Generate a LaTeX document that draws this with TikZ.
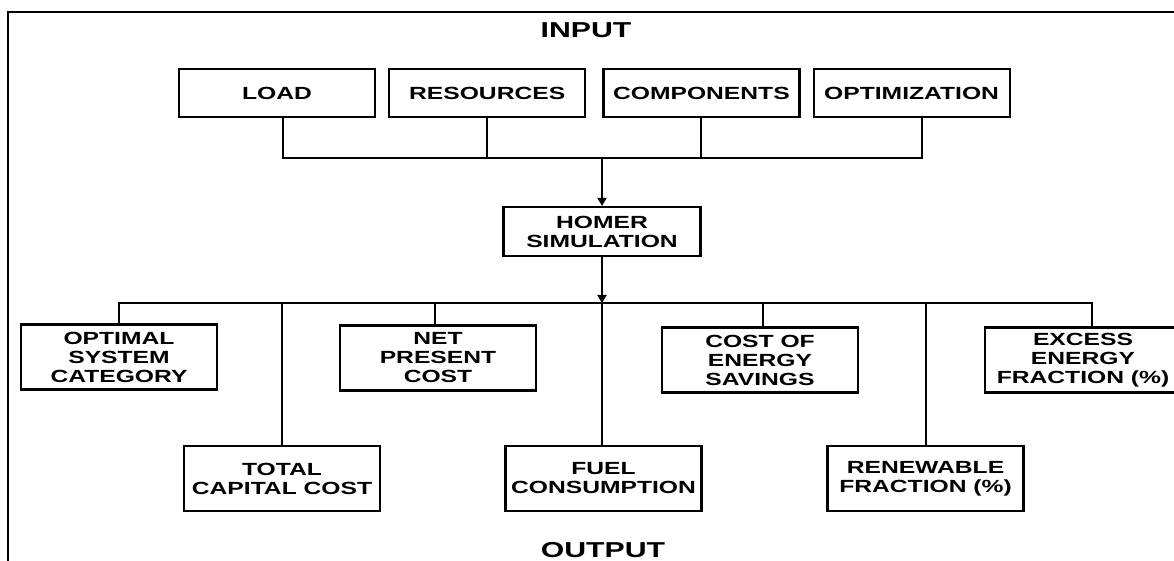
\documentclass[tikz,border=0pt]{standalone}
\usepackage{fontspec}
\setmainfont[FakeStretch=1.4]{Liberation Sans}
\usetikzlibrary{arrows.meta}
\usetikzlibrary{positioning}

\tikzset{
    inbox/.style={draw, line width=1.1pt, minimum width=98pt, minimum height=24pt,
        inner sep=0pt, align=center, font=\bfseries\fontsize{8.8}{9.5}\selectfont},
    outbox/.style={inbox, minimum height=32.5pt},
    heading/.style={font=\bfseries\fontsize{10.8}{12}\selectfont},
    wire/.style={line width=1pt},
    tip/.style={wire, -{Triangle[length=4pt,width=4.5pt]}}
}

\begin{document}
\begin{tikzpicture}[x=0.5pt,y=-0.5pt]
    \useasboundingbox (0,0) rectangle (1174,561);
    \draw[line width=1.1pt] (8,561) -- (8,12) -- (1180,12);

    % input side
    \node[heading] (input) at (586,30) {INPUT};
    \node[inbox] (load) at (277,93) {LOAD};
    \node[inbox, right=6pt of load] (res) {RESOURCES};
    \node[inbox, right=8pt of res] (comp) {COMPONENTS};
    \node[inbox, right=6pt of comp] (optz) {OPTIMIZATION};

    \node[inbox, minimum height=24.5pt, minimum width=98.5pt] (homer) at (602,231.5) {HOMER\\SIMULATION};

    % output side
    \node[outbox] (osc) at (119,357) {OPTIMAL\\SYSTEM\\CATEGORY};
    \node[outbox] (npc) at (438,358) {NET\\PRESENT\\COST};
    \node[outbox] (coes) at (760,360) {COST OF\\ENERGY\\SAVINGS};
    \node[outbox] (eef) at (1083,360) {EXCESS\\ENERGY\\FRACTION (\%)};
    \node[outbox] (tcc) at (282,478.5) {TOTAL\\CAPITAL COST};
    \node[outbox] (fuel) at (603.5,478.5) {FUEL\\CONSUMPTION};
    \node[outbox] (rf) at (925.5,478.5) {RENEWABLE\\FRACTION (\%)};
    \node[heading] (output) at (603,550) {OUTPUT};

    \coordinate (inbus) at (0,158);
    \coordinate (outbus) at (0,303);
    \coordinate (injoin) at (homer.north |- inbus);
    \coordinate (outjoin) at (homer.south |- outbus);

    \foreach \n/\dx in {load/3pt,res/0pt,comp/0pt,optz/5pt}
        \draw[wire] ([xshift=\dx]\n.south) |- (injoin);
    \draw[tip] (injoin) -- (homer.north);

    \draw[tip] (homer.south) -- (outjoin);
    \draw[wire] (outjoin) -- (outjoin |- fuel.north);
    \foreach \n/\dx in {osc/0pt,npc/-1.5pt,coes/1.5pt,eef/4.5pt,tcc/0pt,rf/0pt}
        \draw[wire] (outjoin) -| ([xshift=\dx]\n.north);
\end{tikzpicture}
\end{document}
